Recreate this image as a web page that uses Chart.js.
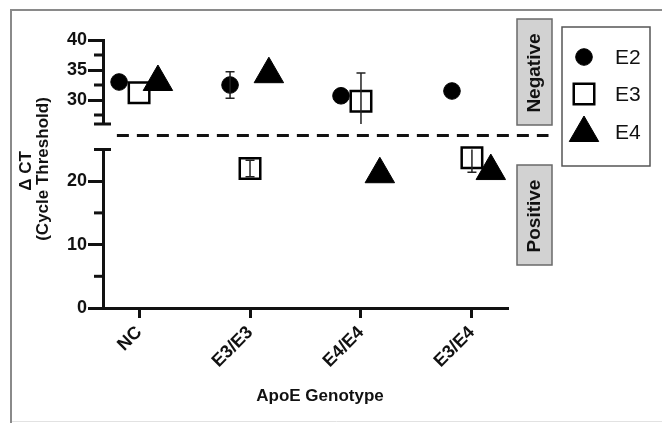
<!DOCTYPE html>
<html>
<head>
<meta charset="utf-8">
<script src="https://cdn.jsdelivr.net/npm/chart.js@4.4.0/dist/chart.umd.min.js"></script>
<style>
html, body { margin: 0; padding: 0; background: #fff; }
#wrap { width: 662px; height: 423px; position: relative; }
</style>
</head>
<body>
<div id="wrap"><canvas id="chart" width="662" height="423"></canvas></div>
<script>
// ---- data ----
const genotypes = ['NC', 'E3/E3', 'E4/E4', 'E3/E4'];
const e2Mean = [33.0, 32.5, 30.7, 31.5];
const e2Err  = [0, 2.2, 0, 0];
const e3Mean = [31.2, 22.0, 29.8, 23.7];
const e3Err  = [0, 1.3, 4.7, 2.3];
const e4Mean = [33.0, 34.3, 21.1, 21.6];
const e4Err  = [0, 0, 0, 0];

// broken y axis: upper and lower segments
const topTicks = [26, 27.5, 30, 32.5, 35, 37.5, 40];
const topTickLabels = ['', '', '30', '', '35', '', '40'];
const bottomTicks = [0, 5, 10, 15, 20, 25];
const bottomTickLabels = ['0', '', '10', '', '20', ''];
const breakValue = 25.5;          // above -> upper segment
const thresholdX = [-0.2, 3.69];  // dashed cut-off line, x extent
const thresholdY = 0.55;          // position inside the axis break

const FONT = '"Liberation Sans", Arial, Helvetica, sans-serif';
const AXIS_LEFT = 103;

function splitSeries(label, means, errs, offset, style) {
    const top = [], bottom = [];
    means.forEach((v, i) => {
        const p = {x: i + offset, y: v, err: errs[i]};
        (v > breakValue ? top : bottom).push(p);
    });
    return [
        Object.assign({label: label, data: top, yAxisID: 'yTop', clip: false}, style),
        Object.assign({label: label, data: bottom, yAxisID: 'yBot', clip: false}, style)
    ];
}

const styleE2 = {pointStyle: 'circle', pointRadius: 8.3, pointHoverRadius: 8.3,
    pointBackgroundColor: '#000', pointBorderColor: '#000', pointBorderWidth: 1, order: 2};
const styleE3 = {pointStyle: 'rect', pointRadius: 14.5, pointHoverRadius: 14.5,
    pointBackgroundColor: '#fff', pointBorderColor: '#000', pointBorderWidth: 2.5, order: 1};
const styleE4 = {pointStyle: 'triangle', pointRadius: 17, pointHoverRadius: 17,
    pointBackgroundColor: '#000', pointBorderColor: '#000', pointBorderWidth: 1, order: 0};

const datasets = [].concat(
    splitSeries('E2', e2Mean, e2Err, -0.18, styleE2),
    splitSeries('E3', e3Mean, e3Err, 0, styleE3),
    splitSeries('E4', e4Mean, e4Err, 0.17, styleE4),
    [{
        type: 'line', label: 'cutoff', yAxisID: 'yGap',
        data: thresholdX.map(x => ({x: x, y: thresholdY})),
        borderColor: '#111', borderWidth: 3, borderDash: [12, 8],
        pointRadius: 0, showLine: true, clip: false, order: 5
    }]
);

function yScale(ticks, labels, min, max, weight, stackWeight) {
    return {
        type: 'linear', position: 'left', stack: 'y', stackWeight: stackWeight, weight: weight,
        min: min, max: max,
        afterBuildTicks: s => { s.ticks = ticks.map(v => ({value: v})); },
        afterFit: s => { s.width = AXIS_LEFT; },
        ticks: {
            callback: (v, i) => labels[i], autoSkip: false,
            font: {family: FONT, size: 18, weight: 'bold'}, color: '#111', padding: 1
        },
        grid: {
            drawOnChartArea: false, tickLength: 15, tickWidth: 3,
            tickColor: c => labels[c.index] ? '#111' : 'rgba(0,0,0,0)'
        },
        border: {color: '#111', width: 3}
    };
}

// frame, break marks, titles, side labels, legend
const decorations = {
    id: 'decorations',
    beforeDraw(chart) {
        const ctx = chart.ctx;
        ctx.save();
        ctx.fillStyle = '#fff';
        ctx.fillRect(0, 0, chart.width, chart.height);
        ctx.strokeStyle = '#e2e2e2';
        ctx.lineWidth = 1;
        ctx.beginPath();
        ctx.moveTo(11, 421.5); ctx.lineTo(662, 421.5);
        ctx.stroke();
        ctx.strokeStyle = '#8a8a8a';
        ctx.lineWidth = 2;
        ctx.beginPath();
        ctx.moveTo(11, 423); ctx.lineTo(11, 10); ctx.lineTo(662, 10);
        ctx.stroke();
        ctx.restore();
    },
    afterDatasetsDraw(chart) {
        const ctx = chart.ctx;
        const xs = chart.scales.x;
        ctx.save();
        // error bars, clipped to their axis segment
        ctx.strokeStyle = '#222';
        ctx.lineWidth = 1.5;
        chart.data.datasets.forEach(ds => {
            if (ds.yAxisID === 'yGap') return;
            const ys = chart.scales[ds.yAxisID];
            ds.data.forEach(p => {
                if (!p.err) return;
                const hiV = p.y + p.err, loV = p.y - p.err;
                const hi = Math.min(hiV, ys.max), lo = Math.max(loV, ys.min);
                const x = xs.getPixelForValue(p.x);
                const yH = ys.getPixelForValue(hi), yL = ys.getPixelForValue(lo);
                ctx.beginPath();
                ctx.moveTo(x, yH); ctx.lineTo(x, yL);
                if (hi === hiV) { ctx.moveTo(x - 4.5, yH); ctx.lineTo(x + 4.5, yH); }
                if (lo === loV) { ctx.moveTo(x - 4.5, yL); ctx.lineTo(x + 4.5, yL); }
                ctx.stroke();
            });
        });
        ctx.restore();
    },
    afterDraw(chart) {
        const ctx = chart.ctx;
        ctx.save();
        // minor ticks and break ends
        ctx.strokeStyle = '#111';
        ctx.lineWidth = 3;
        [['yTop', topTickLabels], ['yBot', bottomTickLabels]].forEach(([id, labels]) => {
            const s = chart.scales[id];
            const ax = s.right;
            s.ticks.forEach((t, i) => {
                if (labels[i]) return;
                const y = s.getPixelForValue(t.value);
                ctx.beginPath();
                if ((id === 'yTop' && t.value === s.min) || (id === 'yBot' && t.value === s.max)) {
                    ctx.moveTo(ax - 9, y); ctx.lineTo(ax + 8, y);
                } else {
                    ctx.moveTo(ax - 9, y); ctx.lineTo(ax, y);
                }
                ctx.stroke();
            });
        });

        // axis titles
        ctx.fillStyle = '#111';
        ctx.textAlign = 'center';
        ctx.textBaseline = 'middle';
        ctx.font = 'bold 17px ' + FONT;
        ctx.fillText('ApoE Genotype', 320, 396);
        ctx.save();
        ctx.translate(26, 171);
        ctx.rotate(-Math.PI / 2);
        ctx.fillText('\u0394 CT', 0, 0);
        ctx.restore();
        ctx.save();
        ctx.translate(43, 169);
        ctx.rotate(-Math.PI / 2);
        ctx.fillText('(Cycle Threshold)', 0, 0);
        ctx.restore();

        // Negative / Positive tags
        const tags = [['Negative', 19, 125], ['Positive', 165, 265]];
        tags.forEach(([txt, y0, y1]) => {
            ctx.fillStyle = '#d2d2d2';
            ctx.strokeStyle = '#6a6a6a';
            ctx.lineWidth = 1.5;
            ctx.beginPath();
            ctx.rect(517, y0, 35, y1 - y0);
            ctx.fill();
            ctx.stroke();
            ctx.save();
            ctx.translate(535, (y0 + y1) / 2 + 1);
            ctx.rotate(-Math.PI / 2);
            ctx.fillStyle = '#111';
            ctx.font = 'bold 19px ' + FONT;
            ctx.fillText(txt, 0, 0);
            ctx.restore();
        });

        // legend
        ctx.fillStyle = '#fff';
        ctx.strokeStyle = '#555';
        ctx.lineWidth = 1.5;
        ctx.beginPath();
        ctx.rect(562, 27, 88, 139);
        ctx.fill();
        ctx.stroke();
        const items = [['E2', styleE2, 57, 57], ['E3', styleE3, 94, 94], ['E4', styleE4, 133, 132]];
        items.forEach(([txt, st, my, ty]) => {
            ctx.fillStyle = st.pointBackgroundColor;
            ctx.strokeStyle = st.pointBorderColor;
            ctx.lineWidth = st.pointBorderWidth;
            Chart.helpers.drawPoint(ctx, {
                pointStyle: st.pointStyle, radius: st.pointRadius,
                borderWidth: st.pointBorderWidth, rotation: 0
            }, 584, my);
            ctx.fillStyle = '#111';
            ctx.textAlign = 'left';
            ctx.font = '21px ' + FONT;
            ctx.fillText(txt, 615, ty + 1);
        });
        ctx.restore();
    }
};

new Chart(document.getElementById('chart'), {
    type: 'scatter',
    data: {datasets: datasets},
    options: {
        responsive: false,
        animation: false,
        events: [],
        layout: {padding: {left: 0, top: 40, right: 154, bottom: 0}},
        plugins: {legend: {display: false}, tooltip: {enabled: false}},
        scales: {
            x: {
                type: 'linear', min: -0.325, max: 3.325,
                afterBuildTicks: s => { s.ticks = genotypes.map((g, i) => ({value: i})); },
                afterFit: s => { s.height = 115; },
                ticks: {
                    callback: (v, i) => genotypes[i], autoSkip: false,
                    minRotation: 45, maxRotation: 45, padding: 4,
                    font: {family: FONT, size: 18, weight: 'bold'}, color: '#111'
                },
                grid: {drawOnChartArea: false, tickLength: 10, tickWidth: 3, tickColor: '#111'},
                border: {color: '#111', width: 3}
            },
            yTop: yScale(topTicks, topTickLabels, 26, 40, 3, 84),
            yGap: {
                type: 'linear', position: 'left', stack: 'y', stackWeight: 25.5, weight: 2,
                min: 0, max: 1,
                afterFit: s => { s.width = AXIS_LEFT; },
                ticks: {display: false},
                grid: {display: false, drawTicks: false},
                border: {display: false}
            },
            yBot: yScale(bottomTicks, bottomTickLabels, 0, 25, 1, 158.5)
        }
    },
    plugins: [decorations]
});
</script>
</body>
</html>
